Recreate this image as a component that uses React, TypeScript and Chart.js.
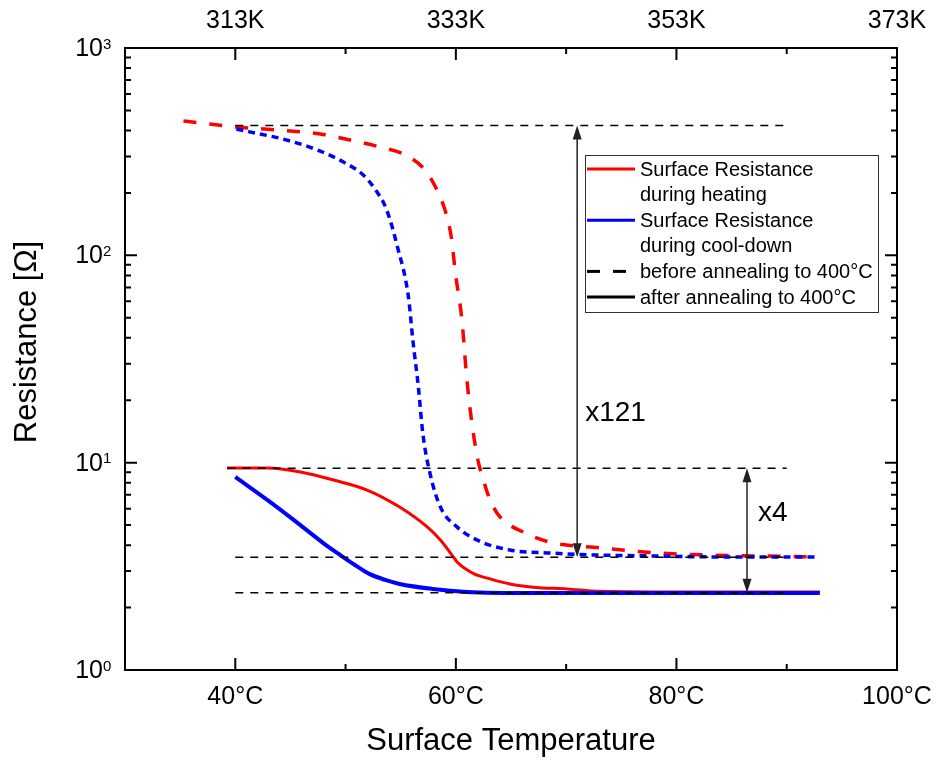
import React, { useEffect, useRef } from 'react';
import { Chart, registerables } from 'chart.js';

Chart.register(...registerables);

const FONT = '"Liberation Sans", Arial, Helvetica, sans-serif';

// ---- axes ----
const xMin = 30;
const xMax = 100;
const xMajorTicks = [40, 60, 80, 100];
const xMinorTicks = [50, 70, 90];
const xTickLabels = ['40°C', '60°C', '80°C', '100°C'];
const topTickLabels = ['313K', '333K', '353K', '373K'];
const yMin = 1;
const yMax = 1000;
const yMajorTicks = [1, 10, 100, 1000];
const yTickExponents = ['0', '1', '2', '3'];

// ---- series: heating, before annealing (red dashed) ----
const heatBeforeT = [35.3, 40.0, 43.6, 47.7, 50.4, 53.1, 55.4, 57.2, 58.2, 59.1, 59.6, 59.95, 60.55, 61.0, 61.5, 62.0, 62.5, 63.1, 64.0, 66.1, 68.5, 73.1, 78.2, 82.8, 87.3, 92.7];
const heatBeforeR = [445, 416, 403, 385, 360, 333, 305, 258, 211, 160, 121, 82.9, 48.8, 25.1, 14.9, 10.3, 8.25, 6.61, 5.47, 4.63, 4.14, 3.88, 3.67, 3.59, 3.55, 3.51];

// ---- series: cool-down, before annealing (blue dashed) ----
const coolBeforeT = [40.1, 41.3, 44.3, 47.4, 49.8, 51.6, 52.6, 53.7, 54.7, 55.7, 56.1, 56.6, 57.0, 57.65, 58.6, 60.1, 61.9, 64.9, 68.5, 72.4, 77.6, 84.0, 92.7];
const coolBeforeR = [407, 394, 364, 323, 282, 244, 211, 167, 110, 63, 39, 23.2, 13.9, 8.9, 6.11, 4.9, 4.24, 3.79, 3.67, 3.59, 3.55, 3.51, 3.51];

// ---- series: heating, after annealing (red solid) ----
const heatAfterT = [39.25, 42.9, 45.9, 48.9, 51.95, 54.9, 57.4, 58.6, 59.5, 60.2, 60.9, 61.7, 63.1, 64.9, 67.0, 70.1, 73.1, 82.1, 93.0];
const heatAfterR = [9.43, 9.43, 9.02, 8.25, 7.38, 6.11, 4.9, 4.24, 3.67, 3.28, 3.07, 2.90, 2.75, 2.60, 2.51, 2.46, 2.40, 2.38, 2.38];

// ---- series: cool-down, after annealing (blue solid) ----
const coolAfterT = [40.0, 42.9, 45.9, 48.1, 49.5, 50.85, 52.2, 53.6, 54.9, 57.9, 61.0, 67.0, 93.0];
const coolAfterR = [8.53, 6.61, 5.0, 4.05, 3.59, 3.21, 2.90, 2.72, 2.60, 2.46, 2.38, 2.35, 2.35];

// ---- reference levels (black dashed) ----
const refLevels = [423, 9.4, 3.5, 2.36];
const refStartT = [40, 39.3, 40, 40];
const refEndT = [90, 90, 90, 90];

// ---- ratio arrows ----
const arrowT = [71.0, 86.4];
const arrowFromR = [423, 9.4];
const arrowToR = [3.5, 2.36];
const arrowLabels = ['x121', 'x4'];
const arrowLabelR = [17.4, 5.7];

// ---- legend ----
const legendLines = [
  ['Surface Resistance', 'during heating'],
  ['Surface Resistance', 'during cool-down'],
  ['before annealing to 400°C'],
  ['after annealing to 400°C'],
];
const legendColors = ['#ff0000', '#0000ff', '#000000', '#000000'];
const legendDashed = [false, false, true, false];

const pts = (t: number[], r: number[]) => t.map((x, i) => ({ x, y: r[i] }));

const decorPlugin = {
  id: 'decor',
  afterDatasetsDraw(chart: any) {
    const { ctx, chartArea: a, scales } = chart;
    const xs = scales.x;
    const ys = scales.y;
    ctx.save();

    // arrows
    arrowT.forEach((t, i) => {
      const x = xs.getPixelForValue(t);
      const y1 = ys.getPixelForValue(arrowFromR[i]);
      const y2 = ys.getPixelForValue(arrowToR[i]);
      const hl = 14;
      const hw = 4.5;
      ctx.strokeStyle = '#222';
      ctx.fillStyle = '#222';
      ctx.lineWidth = 1.5;
      ctx.beginPath();
      ctx.moveTo(x, y1 + hl - 2);
      ctx.lineTo(x, y2 - hl + 2);
      ctx.stroke();
      ctx.beginPath();
      ctx.moveTo(x, y1);
      ctx.lineTo(x - hw, y1 + hl);
      ctx.lineTo(x + hw, y1 + hl);
      ctx.closePath();
      ctx.fill();
      ctx.beginPath();
      ctx.moveTo(x, y2);
      ctx.lineTo(x - hw, y2 - hl);
      ctx.lineTo(x + hw, y2 - hl);
      ctx.closePath();
      ctx.fill();
      ctx.fillStyle = '#000';
      ctx.font = `28px ${FONT}`;
      ctx.textAlign = 'left';
      ctx.textBaseline = 'middle';
      ctx.fillText(arrowLabels[i], x + (i === 0 ? 8 : 11), ys.getPixelForValue(arrowLabelR[i]));
    });

    // frame
    ctx.strokeStyle = '#000';
    ctx.lineWidth = 2;
    ctx.setLineDash([]);
    ctx.strokeRect(a.left, a.top, a.right - a.left, a.bottom - a.top);

    // ticks (inward)
    const major = 12;
    const minor = 6;
    ctx.beginPath();
    xMajorTicks.concat(xMinorTicks).forEach((v) => {
      const len = xMajorTicks.includes(v) ? major : minor;
      const x = xs.getPixelForValue(v);
      ctx.moveTo(x, a.bottom);
      ctx.lineTo(x, a.bottom - len);
      ctx.moveTo(x, a.top);
      ctx.lineTo(x, a.top + len);
    });
    for (let d = 1; d < yMax; d *= 10) {
      for (let m = 1; m <= 10; m++) {
        const v = d * m;
        const len = m === 1 || m === 10 ? major : minor;
        const y = ys.getPixelForValue(v);
        ctx.moveTo(a.left, y);
        ctx.lineTo(a.left + len, y);
        ctx.moveTo(a.right, y);
        ctx.lineTo(a.right - len, y);
      }
    }
    ctx.stroke();

    // y tick labels 10^n
    ctx.fillStyle = '#000';
    yMajorTicks.forEach((v, i) => {
      const y = ys.getPixelForValue(v);
      ctx.font = `25px ${FONT}`;
      ctx.textAlign = 'right';
      ctx.textBaseline = 'middle';
      ctx.fillText('10', a.left - 22, y + 1);
      ctx.font = `15px ${FONT}`;
      ctx.textAlign = 'left';
      ctx.textBaseline = 'top';
      ctx.fillText(yTickExponents[i], a.left - 22, y - 11);
    });

    // y title
    ctx.save();
    ctx.translate(27.5, 342);
    ctx.rotate(-Math.PI / 2);
    ctx.font = `31px ${FONT}`;
    ctx.textAlign = 'center';
    ctx.textBaseline = 'middle';
    ctx.fillText('Resistance [\u03A9]', 0, 0);
    ctx.restore();

    // legend
    const bx = 585, by = 155, bw = 293, bh = 157;
    ctx.fillStyle = '#fff';
    ctx.fillRect(bx, by, bw, bh);
    ctx.strokeStyle = '#333';
    ctx.lineWidth = 1;
    ctx.strokeRect(bx + 0.5, by + 0.5, bw, bh);
    let row = 0;
    legendLines.forEach((lines, i) => {
      const y = 169 + row * 25.6;
      ctx.strokeStyle = legendColors[i];
      ctx.lineWidth = 3;
      ctx.setLineDash(legendDashed[i] ? [13, 13] : []);
      ctx.beginPath();
      ctx.moveTo(587, y);
      ctx.lineTo(635, y);
      ctx.stroke();
      ctx.setLineDash([]);
      ctx.fillStyle = '#000';
      ctx.font = `20px ${FONT}`;
      ctx.textAlign = 'left';
      ctx.textBaseline = 'middle';
      lines.forEach((s, k) => {
        ctx.fillText(s, 640, 169 + (row + k) * 25.6 + 1);
      });
      row += lines.length;
    });

    ctx.restore();
  },
};

export default function App() {
  const ref = useRef<HTMLCanvasElement>(null);
  useEffect(() => {
    document.body.style.margin = '0';
    const canvas = ref.current!;
    const refSets = refLevels.map((v, i) => ({
      label: 'ref' + i,
      data: [
        { x: refStartT[i], y: v },
        { x: refEndT[i], y: v },
      ],
      borderColor: '#000',
      borderWidth: 1.5,
      borderDash: [8, 7],
      pointRadius: 0,
      fill: false,
    }));
    const chart = new Chart(canvas, {
      type: 'line',
      data: {
        datasets: [
          ...refSets,
          {
            label: 'cool after',
            data: pts(coolAfterT, coolAfterR),
            borderColor: '#0000ff',
            borderWidth: 4,
            pointRadius: 0,
            cubicInterpolationMode: 'monotone',
          },
          {
            label: 'heat after',
            data: pts(heatAfterT, heatAfterR),
            borderColor: '#ff0000',
            borderWidth: 3,
            pointRadius: 0,
            cubicInterpolationMode: 'monotone',
          },
          {
            label: 'cool before',
            data: pts(coolBeforeT, coolBeforeR),
            borderColor: '#0000ff',
            borderWidth: 3.5,
            borderDash: [7, 5],
            pointRadius: 0,
            cubicInterpolationMode: 'monotone',
          },
          {
            label: 'heat before',
            data: pts(heatBeforeT, heatBeforeR),
            borderColor: '#ff0000',
            borderWidth: 3.5,
            borderDash: [13, 13],
            pointRadius: 0,
            cubicInterpolationMode: 'monotone',
          },
        ] as any,
      },
      options: {
        animation: false,
        responsive: false,
        devicePixelRatio: 1,
        layout: { padding: { left: 0, right: 39, top: 0, bottom: 0 } },
        plugins: {
          legend: { display: false },
          tooltip: { enabled: false },
        },
        scales: {
          x: {
            type: 'linear',
            position: 'bottom',
            min: xMin,
            max: xMax,
            grid: { display: false, drawTicks: false, tickLength: 0 },
            border: { display: false },
            afterBuildTicks: (s: any) => {
              s.ticks = xMajorTicks.map((v) => ({ value: v }));
            },
            afterFit: (s: any) => {
              s.height = 90;
              s.paddingLeft = 0;
              s.paddingRight = 0;
            },
            ticks: {
              autoSkip: false,
              maxRotation: 0,
              padding: 12,
              color: '#000',
              font: { family: FONT, size: 25 },
              callback: (v: any) => xTickLabels[xMajorTicks.indexOf(Number(v))] ?? '',
            },
            title: {
              display: true,
              text: 'Surface Temperature',
              color: '#000',
              font: { family: FONT, size: 31 },
              padding: { top: 0, bottom: 0 },
            },
          },
          x2: {
            type: 'linear',
            axis: 'x',
            position: 'top',
            min: xMin,
            max: xMax,
            grid: { display: false, drawTicks: false, tickLength: 0 },
            border: { display: false },
            afterBuildTicks: (s: any) => {
              s.ticks = xMajorTicks.map((v) => ({ value: v }));
            },
            afterFit: (s: any) => {
              s.height = 48;
              s.paddingLeft = 0;
              s.paddingRight = 0;
            },
            ticks: {
              autoSkip: false,
              maxRotation: 0,
              padding: 12,
              color: '#000',
              font: { family: FONT, size: 25 },
              callback: (v: any) => topTickLabels[xMajorTicks.indexOf(Number(v))] ?? '',
            },
          },
          y: {
            type: 'logarithmic',
            position: 'left',
            min: yMin,
            max: yMax,
            grid: { display: false, drawTicks: false },
            border: { display: false },
            ticks: { display: false },
            afterFit: (s: any) => {
              s.width = 125;
              s.paddingTop = 0;
              s.paddingBottom = 0;
            },
          },
        },
      } as any,
      plugins: [decorPlugin],
    });
    return () => chart.destroy();
  }, []);
  return (
    <div style={{ width: 936, height: 760, background: '#fff' }}>
      <canvas ref={ref} width={936} height={760} style={{ display: 'block' }} />
    </div>
  );
}
